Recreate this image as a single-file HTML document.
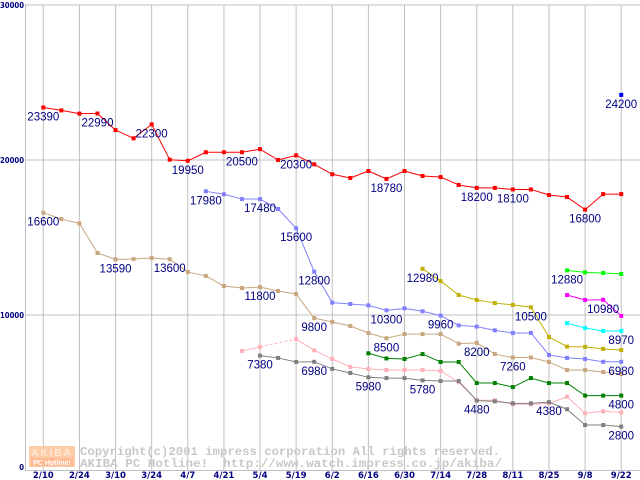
<!DOCTYPE html>
<html><head><meta charset="utf-8"><style>
html,body{margin:0;padding:0;background:#fff;width:640px;height:480px;overflow:hidden}
svg{display:block}
</style></head><body>
<svg id="chart" width="640" height="480" xmlns="http://www.w3.org/2000/svg" font-family="Liberation Sans, sans-serif">
<g id="grid"></g>
<g id="wm">
 <rect x="29" y="446" width="46" height="21" fill="#ffcca8"/>
 <text x="52" y="456" font-size="10" font-weight="bold" fill="#ffe8d8" text-anchor="middle" letter-spacing="2">AKIBA</text>
 <rect x="31" y="458" width="42" height="8" fill="#ffb890"/>
 <text x="52" y="465" font-size="7" font-weight="bold" fill="#fff" text-anchor="middle">PC Hotline!</text>
 <text x="80" y="455" textLength="420" lengthAdjust="spacingAndGlyphs" font-family="Liberation Mono, monospace" font-size="12.2" font-weight="bold" fill="#c8c8c8">Copyright(c)2001 impress corporation All rights reserved.</text>
 <text x="80" y="467" textLength="422" lengthAdjust="spacingAndGlyphs" font-family="Liberation Mono, monospace" font-size="12.2" font-weight="bold" fill="#c8c8c8" xml:space="preserve">AKIBA PC Hotline!  http://www.watch.impress.co.jp/akiba/</text>
</g>
<g id="plot"></g>
</svg>
<script>
const xLabels=["2/10","2/24","3/10","3/24","4/7","4/21","5/4","5/19","6/2","6/16","6/30","7/14","7/28","8/11","8/25","9/8","9/22"];
const yTicks=[0,10000,20000,30000];
const N=null;
const redVals=[23390,23200,22990,23000,21930,21400,22300,20020,19950,20500,20500,20500,20700,20000,20300,19720,19080,18840,19290,18780,19290,18970,18900,18390,18200,18200,18100,18100,17740,17610,16800,17800,17800];
const blueVals=[N,N,N,N,N,N,N,N,N,17980,17790,17480,17480,16840,15600,12800,10800,10710,10620,10300,10430,10240,9960,9330,9250,9010,8840,8840,7420,7230,7160,6980,6980];
const tanVals=[16600,16190,15910,14000,13590,13610,13680,13600,12770,12520,11870,11740,11800,11550,11350,9800,9550,9290,8840,8500,8770,8770,8770,8150,8200,7480,7260,7260,6970,6450,6450,6320,6190];
const oliveVals=[N,N,N,N,N,N,N,N,N,N,N,N,N,N,N,N,N,N,N,N,N,12980,12190,11290,10970,10770,10650,10500,8580,7960,7940,7810,7740];
const limeVals=[N,N,N,N,N,N,N,N,N,N,N,N,N,N,N,N,N,N,N,N,N,N,N,N,N,N,N,N,N,12880,12750,12710,12650];
const magentaVals=[N,N,N,N,N,N,N,N,N,N,N,N,N,N,N,N,N,N,N,N,N,N,N,N,N,N,N,N,N,11290,10970,10980,9940];
const cyanVals=[N,N,N,N,N,N,N,N,N,N,N,N,N,N,N,N,N,N,N,N,N,N,N,N,N,N,N,N,N,9480,9160,8970,8970];
const dgreenVals=[N,N,N,N,N,N,N,N,N,N,N,N,N,N,N,N,N,N,7530,7200,7160,7480,6970,6970,5610,5610,5350,5930,5610,5610,4800,4800,4800];
const pinkVals=[N,N,N,N,N,N,N,N,N,N,N,7680,7940,N,8450,7720,7160,6650,6520,6450,6450,6450,6390,5660,4500,4500,4240,4240,4300,4730,3660,3790,3720];
const greyVals=[N,N,N,N,N,N,N,N,N,N,N,N,7380,7230,6970,6980,6520,6260,5980,5930,5930,5780,5740,5740,4480,4430,4300,4300,4380,3920,2900,2900,2800];
const navyVals=[N,N,N,N,N,N,N,N,N,N,N,N,N,N,N,N,N,N,N,N,N,N,N,N,N,N,N,N,N,N,N,N,24200];
const labelSeries=["red","red","red","red","red","red","red","red","red","red","navy","tan","tan","tan","tan","tan","tan","tan","tan","blue","blue","blue","blue","blue","blue","blue","olive","olive","lime","magenta","cyan","dgreen","grey","grey","grey","grey","grey","grey","grey"];
const labelIdx=[0,3,6,8,11,14,19,24,26,30,32,0,4,7,12,15,19,24,26,9,12,14,15,19,22,32,21,27,29,31,32,32,12,15,18,21,24,28,32];
const labelText=["23390","22990","22300","19950","20500","20300","18780","18200","18100","16800","24200","16600","13590","13600","11800","9800","8500","8200","7260","17980","17480","15600","12800","10300","9960","6980","12980","10500","12880","10980","8970","4800","7380","6980","5980","5780","4480","4380","2800"];

const series={red:[redVals,"#ff0000"],blue:[blueVals,"#8080ff"],tan:[tanVals,"#c8a680"],olive:[oliveVals,"#c0b000"],lime:[limeVals,"#00ff00"],magenta:[magentaVals,"#ff00ff"],cyan:[cyanVals,"#00ffff"],dgreen:[dgreenVals,"#008000"],pink:[pinkVals,"#ffb0b8"],grey:[greyVals,"#808080"],navy:[navyVals,"#0000ff"]};
const NS="http://www.w3.org/2000/svg";
function X(i){return 43.3+i*18.06;}
function Y(v){return 470-v*0.0155;}
function mk(tag,at,parent){const e=document.createElementNS(NS,tag);for(const k in at)e.setAttribute(k,at[k]);parent.appendChild(e);return e;}
const grid=document.getElementById('grid'),plot=document.getElementById('plot');
yTicks.forEach(t=>{
 if(t>0){const l=mk('line',{x1:25,x2:640,y1:Y(t),y2:Y(t),stroke:'#c0c0c0','stroke-width':1},grid);
 
 }
 const s=String(t);
 const w=s.length*4.8;
 const tx=mk('text',{x:24-w,y:Y(t)+(t==0?0:3),textLength:w,lengthAdjust:'spacingAndGlyphs','font-size':7.5,'font-weight':'bold',fill:'#000080','font-family':'DejaVu Sans, sans-serif'},grid);
 tx.textContent=s;
 
 
});
xLabels.forEach((s,k)=>{
 const x=X(k*2);
 const l=mk('line',{x1:x,x2:x,y1:4.5,y2:470,stroke:'#c0c0c0','stroke-width':1},grid);
 
 
 const t=mk('text',{x:x,y:478,'font-size':8.5,'font-weight':'bold',fill:'#000080','text-anchor':'middle','font-family':'DejaVu Sans, sans-serif'},grid);
 t.textContent=s;
 
 
});
const ax=mk('path',{d:'M25.5,4V470.5H640',fill:'none',stroke:'#c0c0c0','stroke-width':1},grid);


for(const name in series){
 const [vals,col]=series[name];
 const g=mk('g',{},plot);
 
 
 let prev=-1;
 for(let i=0;i<vals.length;i++){
  if(vals[i]==null)continue;
  if(prev>=0){
   const seg=mk('line',{x1:X(prev),y1:Y(vals[prev]),x2:X(i),y2:Y(vals[i]),stroke:col,'stroke-width':1},g);
   if(i-prev>1)seg.setAttribute('stroke-dasharray','3,2');
   
   
  }
  prev=i;
 }
 vals.forEach((v,i)=>{
  if(v==null)return;
  const r=mk('rect',{x:X(i)-2,y:Y(v)-2,width:4,height:4,fill:col},g);
  
  
 });
}
labelText.forEach((s,k)=>{
 const v=series[labelSeries[k]][0][labelIdx[k]];
 const t=mk('text',{x:X(labelIdx[k]),y:Y(v)+13,'font-size':11.5,fill:'#000080','text-anchor':'middle'},plot);
 t.textContent=s;
 
 
});
</script>
</body></html>
